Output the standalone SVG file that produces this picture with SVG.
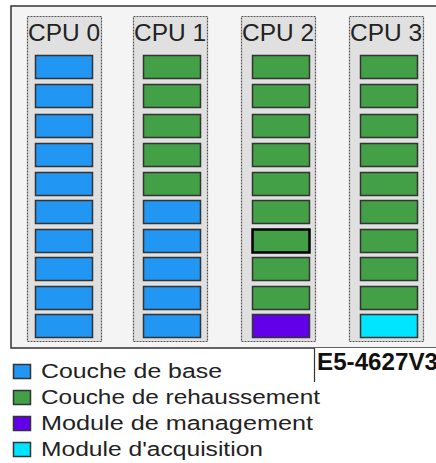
<svg xmlns="http://www.w3.org/2000/svg" width="436" height="463" viewBox="0 0 436 463">
<style>
.frame{fill:#f4f4f4;stroke:#333;stroke-width:1.5}
.col{fill:#e0e0e0;stroke:#555;stroke-width:1.2;stroke-dasharray:2 1}
.lbl{font-family:"Liberation Sans",Arial,sans-serif;font-size:24px;fill:#222}
.bar{stroke:#333;stroke-width:1.5}
.b{fill:#2196f3}.g{fill:#43a047}.p{fill:#6200ea}.c{fill:#00e5ff}
.hl{stroke:#000;stroke-width:2.5}
.leg{font-family:"Liberation Sans",Arial,sans-serif;font-size:20px;fill:#222}
.sw{stroke:#333;stroke-width:1.5}
.model{font-family:"Liberation Sans",Arial,sans-serif;font-size:23px;font-weight:bold;fill:#111}
</style>
<rect class="frame" x="11" y="6" width="440" height="342"/>
<g id="cpu0">
<rect class="col" x="27.5" y="16.5" width="74" height="325"/>
<text class="lbl" x="28" y="41" textLength="72" lengthAdjust="spacingAndGlyphs">CPU 0</text>
<rect class="bar b" x="35.5" y="55.5" width="57" height="23"/>
<rect class="bar b" x="35.5" y="84.5" width="57" height="23"/>
<rect class="bar b" x="35.5" y="114.5" width="57" height="23"/>
<rect class="bar b" x="35.5" y="143.5" width="57" height="23"/>
<rect class="bar b" x="35.5" y="172.5" width="57" height="23"/>
<rect class="bar b" x="35.5" y="200.5" width="57" height="23"/>
<rect class="bar b" x="35.5" y="229.5" width="57" height="23"/>
<rect class="bar b" x="35.5" y="257.5" width="57" height="23"/>
<rect class="bar b" x="35.5" y="286.5" width="57" height="23"/>
<rect class="bar b" x="35.5" y="314.5" width="57" height="23"/>
</g>
<g id="cpu1">
<rect class="col" x="133.5" y="16.5" width="74" height="325"/>
<text class="lbl" x="134" y="41" textLength="72" lengthAdjust="spacingAndGlyphs">CPU 1</text>
<rect class="bar g" x="143.5" y="55.5" width="57" height="23"/>
<rect class="bar g" x="143.5" y="84.5" width="57" height="23"/>
<rect class="bar g" x="143.5" y="114.5" width="57" height="23"/>
<rect class="bar g" x="143.5" y="143.5" width="57" height="23"/>
<rect class="bar g" x="143.5" y="172.5" width="57" height="23"/>
<rect class="bar b" x="143.5" y="200.5" width="57" height="23"/>
<rect class="bar b" x="143.5" y="229.5" width="57" height="23"/>
<rect class="bar b" x="143.5" y="257.5" width="57" height="23"/>
<rect class="bar b" x="143.5" y="286.5" width="57" height="23"/>
<rect class="bar b" x="143.5" y="314.5" width="57" height="23"/>
</g>
<g id="cpu2">
<rect class="col" x="241.5" y="16.5" width="74" height="325"/>
<text class="lbl" x="242" y="41" textLength="72" lengthAdjust="spacingAndGlyphs">CPU 2</text>
<rect class="bar g" x="252.5" y="55.5" width="57" height="23"/>
<rect class="bar g" x="252.5" y="84.5" width="57" height="23"/>
<rect class="bar g" x="252.5" y="114.5" width="57" height="23"/>
<rect class="bar g" x="252.5" y="143.5" width="57" height="23"/>
<rect class="bar g" x="252.5" y="172.5" width="57" height="23"/>
<rect class="bar g" x="252.5" y="200.5" width="57" height="23"/>
<rect class="bar g hl" x="252.5" y="229.5" width="57" height="23"/>
<rect class="bar g" x="252.5" y="257.5" width="57" height="23"/>
<rect class="bar g" x="252.5" y="286.5" width="57" height="23"/>
<rect class="bar p" x="252.5" y="314.5" width="57" height="23"/>
</g>
<g id="cpu3">
<rect class="col" x="349.5" y="16.5" width="74" height="325"/>
<text class="lbl" x="350" y="41" textLength="72" lengthAdjust="spacingAndGlyphs">CPU 3</text>
<rect class="bar g" x="360.5" y="55.5" width="57" height="23"/>
<rect class="bar g" x="360.5" y="84.5" width="57" height="23"/>
<rect class="bar g" x="360.5" y="114.5" width="57" height="23"/>
<rect class="bar g" x="360.5" y="143.5" width="57" height="23"/>
<rect class="bar g" x="360.5" y="172.5" width="57" height="23"/>
<rect class="bar g" x="360.5" y="200.5" width="57" height="23"/>
<rect class="bar g" x="360.5" y="229.5" width="57" height="23"/>
<rect class="bar g" x="360.5" y="257.5" width="57" height="23"/>
<rect class="bar g" x="360.5" y="286.5" width="57" height="23"/>
<rect class="bar c" x="360.5" y="314.5" width="57" height="23"/>
</g>
<g id="model">
<rect x="314.5" y="348" width="130" height="34" fill="#fff"/>
<path d="M314.5 348V382" stroke="#333" stroke-width="1.2" fill="none"/>
<text class="model" x="317" y="370" textLength="121" lengthAdjust="spacingAndGlyphs">E5-4627V3</text>
</g>
<g id="legend">
<rect class="sw b" x="13.5" y="364.5" width="17" height="14"/>
<text class="leg" x="41" y="378" textLength="181" lengthAdjust="spacingAndGlyphs">Couche de base</text>
<rect class="sw g" x="13.5" y="390.5" width="17" height="14"/>
<text class="leg" x="41" y="404" textLength="279" lengthAdjust="spacingAndGlyphs">Couche de rehaussement</text>
<rect class="sw p" x="13.5" y="416.5" width="17" height="14"/>
<text class="leg" x="41" y="430" textLength="272" lengthAdjust="spacingAndGlyphs">Module de management</text>
<rect class="sw c" x="13.5" y="442.5" width="17" height="14"/>
<text class="leg" x="41" y="456" textLength="222" lengthAdjust="spacingAndGlyphs">Module d'acquisition</text>
</g>
</svg>
